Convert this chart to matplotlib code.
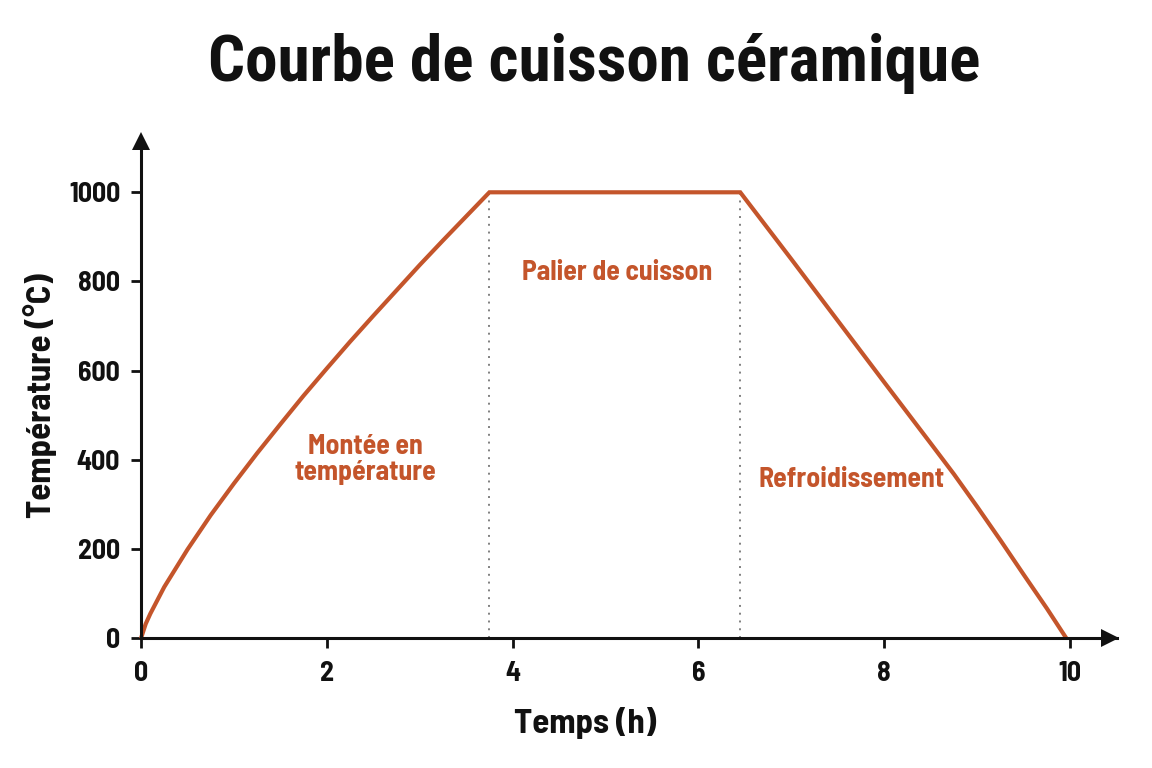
import matplotlib
matplotlib.use("Agg")
import matplotlib.pyplot as plt
from matplotlib import font_manager

# ---------------- data ----------------
time_h = [0.0, 0.05, 0.1, 0.25, 0.5, 0.75, 1.0, 1.25, 1.5, 1.75, 2.0, 2.25, 2.5, 2.75,
          3.0, 3.25, 3.5, 3.75,
          6.45,
          7.0, 7.5, 8.0, 8.5, 8.75, 9.0, 9.25, 9.5, 9.75, 9.96]
temp_c = [0, 32, 55, 115, 199, 276, 347, 415, 480, 544, 605, 665, 723, 780,
          837, 892, 946, 1000,
          1000,
          850, 712, 574, 437, 368, 295, 220, 143, 67, 0]
phase_bounds = [3.75, 6.45]
x_ticks = [0, 2, 4, 6, 8, 10]
y_ticks = [0, 200, 400, 600, 800, 1000]
phase_labels = ["Montée en\ntempérature", "Palier de cuisson", "Refroidissement"]
phase_label_pos = [(2.42, 400), (5.12, 821), (7.65, 355)]
title = "Courbe de cuisson céramique"
xlabel = "Temps (h)"
ylabel = "Température (°C)"

# ---------------- fonts ----------------
names = {f.name for f in font_manager.fontManager.ttflist}


def pick(*cands):
    for c in cands:
        if c in names:
            return [c, "DejaVu Sans"]
    return ["DejaVu Sans"]


title_font = pick("Roboto Condensed", "Barlow Condensed", "Fira Sans Condensed")
body_font = pick("Barlow Semi Condensed", "Roboto Condensed", "Fira Sans Condensed")
anno_font = pick("Barlow Semi Condensed", "Roboto Condensed", "Fira Sans Condensed")
plt.rcParams["font.family"] = body_font

orange = "#C4552B"
black = "#111111"

fig = plt.figure(figsize=(11.52, 7.68), dpi=100)
ax = fig.add_axes([0.1224, 0.1689, 0.8468, 0.6504])

ax.plot(time_h, temp_c, color=orange, lw=3.0, solid_joinstyle="miter",
        solid_capstyle="butt", zorder=3, clip_on=False)

for b in phase_bounds:
    ax.plot([b, b], [0, 1000], color="#808080", lw=1.4, ls=(0, (1, 3.0)), zorder=2)

ax.set_xlim(0, 10.5)
ax.set_ylim(0, 1120)

for s in ["top", "right"]:
    ax.spines[s].set_visible(False)
for s in ["left", "bottom"]:
    ax.spines[s].set_linewidth(2.2)
    ax.spines[s].set_color(black)
    ax.spines[s].set_zorder(4)

ax.plot(0.993, 0, marker=">", ms=13, color=black, transform=ax.transAxes,
        clip_on=False, zorder=5, markeredgewidth=0)
ax.plot(0, 0.995, marker="^", ms=13, color=black, transform=ax.transAxes,
        clip_on=False, zorder=5, markeredgewidth=0)

ax.set_xticks(x_ticks)
ax.set_yticks(y_ticks)
ax.set_xticklabels([str(v) for v in x_ticks])
ax.set_yticklabels([str(v) for v in y_ticks])
ax.tick_params(axis="both", length=7, width=2, color=black, labelsize=20,
               labelcolor=black)
ax.tick_params(axis="x", pad=9)
ax.tick_params(axis="y", pad=8)
for lab in ax.get_xticklabels() + ax.get_yticklabels():
    lab.set_fontweight(700)
    lab.set_family(body_font)

for text, (x, y) in zip(phase_labels, phase_label_pos):
    ax.text(x, y, text, color=orange, fontsize=20, fontweight=700, family=anno_font,
            ha="center", va="center", linespacing=1.05, zorder=6)

fig.text(0.5156, 0.9167, title, fontsize=47, fontweight="bold", family=title_font,
         ha="center", va="center", color=black)
fig.text(0.5078, 0.0586, xlabel, fontsize=25, fontweight=700, family=body_font,
         ha="center", va="center", color=black)
fig.text(0.0347, 0.4845, ylabel, fontsize=25, fontweight=700, family=body_font,
         ha="center", va="center", rotation=90, color=black)

fig.savefig("out.png", dpi=100, facecolor="white")
